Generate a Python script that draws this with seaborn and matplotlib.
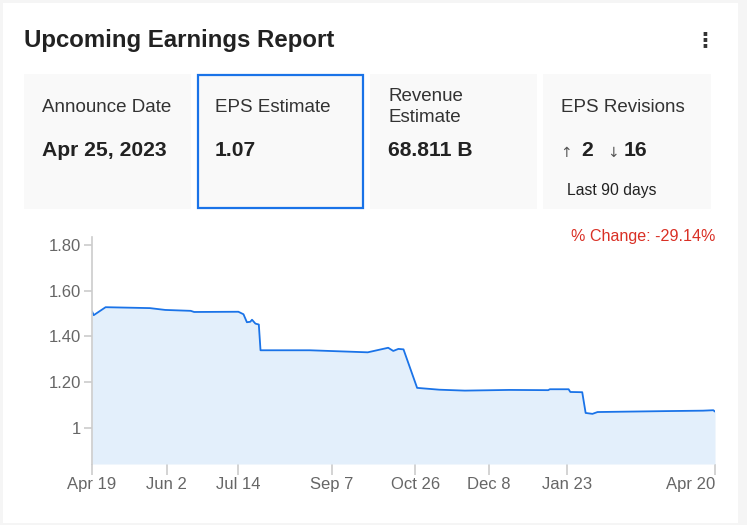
import pandas as pd
import matplotlib
matplotlib.use("Agg")
import matplotlib.pyplot as plt
from matplotlib.patches import Rectangle
import seaborn as sns

# EPS estimate history
dates = ["2022-04-19", "2022-04-20", "2022-04-27", "2022-05-23", "2022-06-01",
         "2022-06-16", "2022-06-18", "2022-07-14", "2022-07-17", "2022-07-19",
         "2022-07-21", "2022-07-22", "2022-07-24", "2022-07-26", "2022-07-27",
         "2022-08-25", "2022-09-28", "2022-10-10", "2022-10-13", "2022-10-16",
         "2022-10-19", "2022-10-27", "2022-11-09", "2022-11-24", "2022-12-20",
         "2023-01-12", "2023-01-13", "2023-01-24", "2023-01-25", "2023-02-01",
         "2023-02-03", "2023-02-07", "2023-02-10", "2023-03-21", "2023-04-13",
         "2023-04-19", "2023-04-20"]
eps = [1.51, 1.493, 1.528, 1.524, 1.516,
       1.512, 1.507, 1.508, 1.497, 1.462,
       1.464, 1.473, 1.456, 1.452, 1.339,
       1.339, 1.330, 1.350, 1.336, 1.345,
       1.343, 1.174, 1.166, 1.162, 1.165,
       1.164, 1.168, 1.168, 1.156, 1.155,
       1.064, 1.060, 1.068, 1.072, 1.074,
       1.076, 1.07]

tick_dates = ["2022-04-19", "2022-06-02", "2022-07-14", "2022-09-07",
              "2022-10-26", "2022-12-08", "2023-01-23", "2023-04-20"]
tick_labels = ["Apr 19", "Jun 2", "Jul 14", "Sep 7", "Oct 26", "Dec 8", "Jan 23", "Apr 20"]
y_ticks = [1.0, 1.2, 1.4, 1.6, 1.8]
y_tick_labels = ["1", "1.20", "1.40", "1.60", "1.80"]

card_titles = ["Announce Date", "EPS Estimate", "Revenue\nEstimate", "EPS Revisions"]
card_values = ["Apr 25, 2023", "1.07", "68.811 B", None]
revisions_up = 2
revisions_down = 16

df = pd.DataFrame({"date": pd.to_datetime(dates), "eps": eps})
pct_change = (eps[-1] / eps[0] - 1) * 100

sns.set_theme(style="white")
plt.rcParams["font.family"] = ["Liberation Sans", "DejaVu Sans"]

W, H = 747, 525
fig = plt.figure(figsize=(W / 100, H / 100), dpi=100)
fig.patch.set_facecolor("#f5f5f5")

# overlay in pixel coordinates for the card layout
bg = fig.add_axes([0, 0, 1, 1])
bg.set_xlim(0, W)
bg.set_ylim(H, 0)
bg.axis("off")
bg.add_patch(Rectangle((3, 3), 735, 520, facecolor="white", edgecolor="none"))

bg.text(24, 40, "Upcoming Earnings Report", fontsize=17.3, fontweight="bold",
        color="#222222", va="center", ha="left")
bg.text(705, 40, "⋮", fontsize=15, fontweight="bold", color="#333333",
        va="center", ha="center", family="DejaVu Sans")

card_x = [24, 197, 370, 543]
card_w = [167, 166, 167, 168]
for i, (x, w) in enumerate(zip(card_x, card_w)):
    bg.add_patch(Rectangle((x, 74), w, 135, facecolor="#f9f9f9", edgecolor="none"))
    bg.text(x + 18, 107, card_titles[i], fontsize=13.5, color="#333333",
            va="center", ha="left", linespacing=1.35)
    if card_values[i] is not None:
        bg.text(x + 18, 151, card_values[i], fontsize=15.2, fontweight="bold",
                color="#222222", va="center", ha="left")

# highlighted card border
bg.add_patch(Rectangle((198, 75), 165, 133, facecolor="none",
                       edgecolor="#1a73e8", linewidth=1.6))

# revisions card content
bx = card_x[3] + 18
bg.text(bx - 1, 153, "↑", fontsize=10, color="#555555", va="center", ha="left",
        family="DejaVu Sans")
bg.text(bx + 20, 151, str(revisions_up), fontsize=15.2, fontweight="bold",
        color="#222222", va="center", ha="left")
bg.text(bx + 46, 153, "↓", fontsize=10, color="#555555", va="center", ha="left",
        family="DejaVu Sans")
bg.text(bx + 63, 151, str(revisions_down), fontsize=15.2, fontweight="bold",
        color="#222222", va="center", ha="left")
bg.text(bx + 6, 190, "Last 90 days", fontsize=11.3, color="#222222",
        va="center", ha="left")

# chart
x0, x1, y0, y1 = 92, 715, 237, 464
ax = fig.add_axes([x0 / W, 1 - y1 / H, (x1 - x0) / W, (y1 - y0) / H])
ax.set_facecolor("none")
ax.fill_between(df["date"], df["eps"], 0.84, color="#e3effb", linewidth=0)
sns.lineplot(data=df, x="date", y="eps", ax=ax, color="#1a73e8", linewidth=1.3)
ax.set_xlim(pd.Timestamp(dates[0]), pd.Timestamp(dates[-1]))
ax.set_ylim(0.84, 1.836)
ax.set_xlabel("")
ax.set_ylabel("")

ax.set_xticks(pd.to_datetime(tick_dates))
ax.set_xticklabels(tick_labels)
ax.get_xticklabels()[-1].set_ha("right")
ax.set_yticks(y_ticks)
ax.set_yticklabels(y_tick_labels)
ax.tick_params(axis="both", labelsize=12, labelcolor="#666666", color="#cccccc",
               width=1.2, left=True, bottom=True)
ax.tick_params(axis="y", length=6, pad=2)
ax.tick_params(axis="x", length=8, pad=1.5)
for side in ["top", "right", "bottom"]:
    ax.spines[side].set_visible(False)
ax.spines["left"].set_color("#cccccc")
ax.spines["left"].set_linewidth(1.2)
ax.grid(False)

bg.text(715, 237, f"% Change: {pct_change:.2f}%", fontsize=11.6, color="#d93025",
        va="center", ha="right")

fig.savefig("out.png", dpi=100)
